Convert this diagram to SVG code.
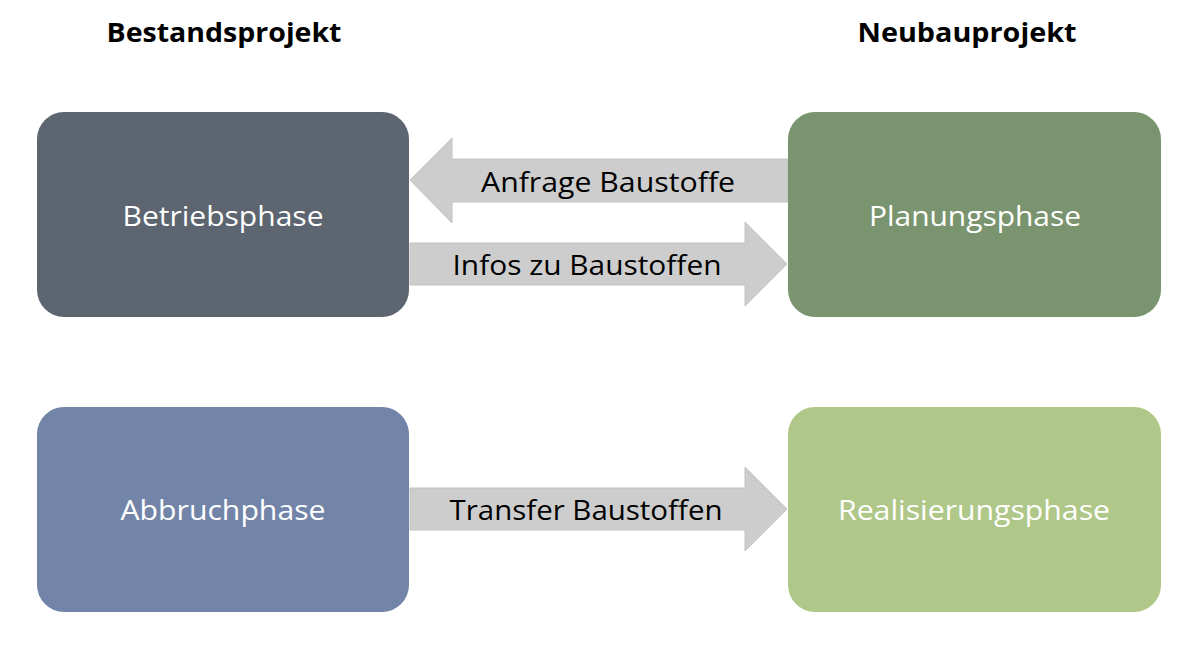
<svg xmlns="http://www.w3.org/2000/svg" width="1200" height="645" viewBox="0 0 1200 645">
<style>
.hdr{font-family:"Open Sans","Noto Sans","Liberation Sans",sans-serif;font-weight:bold;font-size:27px;fill:#000;text-anchor:middle}
.nt{font-family:"Open Sans","Noto Sans","Liberation Sans",sans-serif;font-size:28px;fill:#fff;text-anchor:middle}
.at{font-family:"Open Sans","Noto Sans","Liberation Sans",sans-serif;font-size:28px;fill:#000;text-anchor:middle}
.arr{fill:#CDCDCD;stroke:#C2C2C2;stroke-width:1}
</style>
<rect width="1200" height="645" fill="#fff"/>
<text class="hdr" x="224" y="42" textLength="235" lengthAdjust="spacingAndGlyphs">Bestandsprojekt</text>
<text class="hdr" x="967" y="42" textLength="219" lengthAdjust="spacingAndGlyphs">Neubauprojekt</text>
<g id="connectors">
<g id="arrow-anfrage">
<polygon class="arr" points="788,159 452,159 452,138 410,180 452,223 452,202 788,202"/>
<text class="at" x="608" y="192" textLength="254" lengthAdjust="spacingAndGlyphs">Anfrage Baustoffe</text>
</g>
<g id="arrow-infos">
<polygon class="arr" points="410,243 745,243 745,222 787,264 745,306 745,285 410,285"/>
<text class="at" x="587" y="275" textLength="269" lengthAdjust="spacingAndGlyphs">Infos zu Baustoffen</text>
</g>
<g id="arrow-transfer">
<polygon class="arr" points="410,488 745,488 745,467 787,509 745,551 745,530 410,530"/>
<text class="at" x="586" y="520" textLength="273" lengthAdjust="spacingAndGlyphs">Transfer Baustoffen</text>
</g>
</g>
<g id="node-betrieb">
<rect x="37" y="112" width="372" height="205" rx="27" fill="#5C6570"/>
<text class="nt" x="223" y="226" textLength="201" lengthAdjust="spacingAndGlyphs">Betriebsphase</text>
</g>
<g id="node-planung">
<rect x="788" y="112" width="373" height="205" rx="27" fill="#79946F"/>
<text class="nt" x="975" y="226" textLength="212" lengthAdjust="spacingAndGlyphs">Planungsphase</text>
</g>
<g id="node-abbruch">
<rect x="37" y="407" width="372" height="205" rx="27" fill="#7285A8"/>
<text class="nt" x="223" y="520" textLength="205" lengthAdjust="spacingAndGlyphs">Abbruchphase</text>
</g>
<g id="node-realisierung">
<rect x="788" y="407" width="373" height="205" rx="27" fill="#AFC788"/>
<text class="nt" x="974" y="520" textLength="272" lengthAdjust="spacingAndGlyphs">Realisierungsphase</text>
</g>
</svg>
